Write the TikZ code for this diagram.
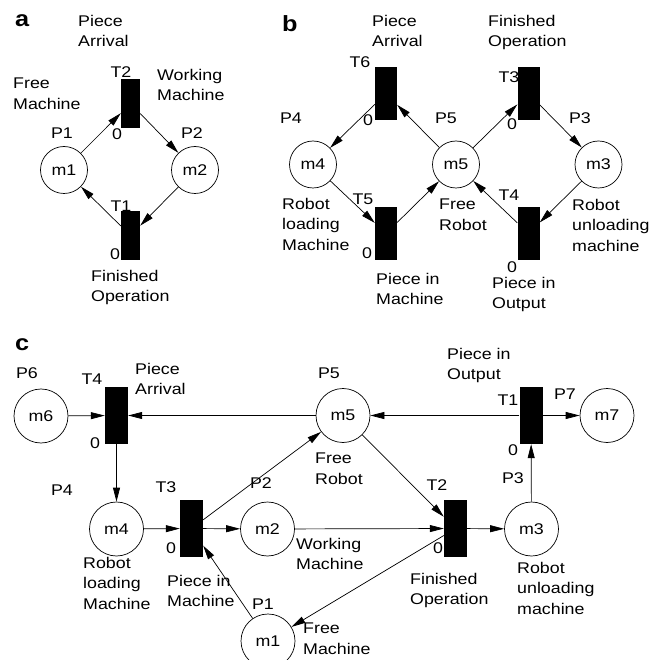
\documentclass[tikz,border=0pt]{standalone}
\usepackage{fontspec}
\setmainfont{Liberation Sans}[FakeStretch=1.15]
\usetikzlibrary{arrows.meta}
\tikzstyle{place}=[draw, circle, line width=0.7pt, minimum size=47pt, inner sep=0pt]
\tikzstyle{transition}=[fill=black, minimum width=22pt, minimum height=53pt, inner sep=0pt]
\tikzstyle{plabel}=[inner sep=0pt]
\tikzstyle{note}=[inner sep=0pt, anchor=north west, align=left]
\tikzstyle{panel}=[inner sep=0pt, anchor=base west, font=\fontsize{22}{24}\selectfont\bfseries]
\tikzstyle{flow}=[line width=0.7pt, -{Triangle[length=14pt, width=7pt]}]

\begin{document}
\begin{tikzpicture}[x=1pt, y=-1pt, font=\fontsize{15.5}{20.5}\selectfont]
      \useasboundingbox (0,0) rectangle (664,660);

      \node[panel] (a) at (15, 27) {a};
      \node[place] (am1) at (64, 170) {m1};
      \node[place] (am2) at (195, 170) {m2};
      \node[transition, minimum width=19pt, minimum height=49pt] (aT2) at (130.5, 103.5) {};
      \node[transition, minimum width=19pt, minimum height=49pt] (aT1) at (130.5, 235.5) {};
      \node[plabel] (aP1) at (62, 133) {P1};
      \node[plabel] (aP2) at (192, 133) {P2};
      \node[plabel] (aT2name) at (121, 72) {T2};
      \node[plabel] (aT2zero) at (117, 134) {0};
      \node[plabel] (aT1name) at (121, 206) {T1};
      \node[plabel] (aT1zero) at (115, 254) {0};
      \node[note] (aarrival) at (78, 15) {Piece\\Arrival};
      \node[note] (aworking) at (157, 69) {Working\\Machine};
      \node[note] (afree) at (13, 78) {Free\\Machine};
      \node[note] (afinished) at (91, 270) {Finished\\Operation};
      \draw[flow] (am1) to (aT2);
      \draw[flow] (aT2) to (am2);
      \draw[flow] (am2) to (aT1);
      \draw[flow] (aT1) to (am1);

      \node[panel] (b) at (282, 32) {b};
      \node[place] (bm4) at (313, 164.5) {m4};
      \node[place] (bm5) at (456, 164.5) {m5};
      \node[place] (bm3) at (598.5, 164.5) {m3};
      \node[transition] (bT6) at (386, 93.5) {};
      \node[transition] (bT3) at (528.5, 93.5) {};
      \node[transition] (bT5) at (386, 233.5) {};
      \node[transition] (bT4) at (528.5, 233.5) {};
      \node[plabel] (bT6name) at (360, 62) {T6};
      \node[plabel] (bT6zero) at (368, 120) {0};
      \node[plabel] (bT3name) at (509, 77) {T3};
      \node[plabel] (bT3zero) at (512, 124) {0};
      \node[plabel] (bP4) at (291, 118) {P4};
      \node[plabel] (bP5) at (446, 118) {P5};
      \node[plabel] (bP3) at (580, 118) {P3};
      \node[plabel] (bT5name) at (363, 199) {T5};
      \node[plabel] (bT5zero) at (367, 253) {0};
      \node[plabel] (bT4name) at (509, 195) {T4};
      \node[plabel] (bT4zero) at (512, 267) {0};
      \node[note] (barrival) at (372, 15) {Piece\\Arrival};
      \node[note] (bfinished) at (488, 15) {Finished\\Operation};
      \node[note] (bloading) at (282, 198) {Robot\\loading\\Machine};
      \node[note] (bfree) at (439, 199) {Free\\Robot};
      \node[note] (bunloading) at (572, 199) {Robot\\unloading\\machine};
      \node[note] (bpiecemachine) at (376, 273) {Piece in\\Machine};
      \node[note] (bpieceoutput) at (492, 277) {Piece in\\Output};
      \draw[flow] (bT6) to (bm4);
      \draw[flow] (bm5) to (bT6);
      \draw[flow] (bm5) to (bT3);
      \draw[flow] (bT3) to (bm3);
      \draw[flow] (bm4) to (bT5);
      \draw[flow] (bT5) to (bm5);
      \draw[flow] (bT4) to (bm5);
      \draw[flow] (bm3) to (bT4);

      \node[panel] (c) at (15, 350) {c};
      \begin{scope}[every node/.append style={minimum size=0pt}]
      \node[place, minimum size=54pt] (cm6) at (41, 416) {m6};
      \node[place, minimum size=54pt] (cm5) at (343, 415.5) {m5};
      \node[place, minimum size=54pt] (cm7) at (607, 415.5) {m7};
      \node[place, minimum size=54pt] (cm4) at (116.5, 529) {m4};
      \node[place, minimum size=54pt] (cm2) at (267.5, 529) {m2};
      \node[place, minimum size=54pt] (cm3) at (531.5, 529) {m3};
      \node[place, minimum size=54pt] (cm1) at (268, 641) {m1};
      \end{scope}
      \node[transition, minimum width=23pt, minimum height=57pt] (cT4) at (116.5, 415.5) {};
      \node[transition, minimum width=23pt, minimum height=57pt] (cT1) at (531, 415.5) {};
      \node[transition, minimum width=23pt, minimum height=57pt] (cT3) at (191.5, 528.5) {};
      \node[transition, minimum width=23pt, minimum height=57pt] (cT2) at (455.5, 528.5) {};
      \node[plabel] (cP6) at (27, 373) {P6};
      \node[plabel] (cT4name) at (92, 379) {T4};
      \node[plabel] (cT4zero) at (95, 443) {0};
      \node[plabel] (cP4) at (62, 490) {P4};
      \node[plabel] (cT3name) at (166, 487) {T3};
      \node[plabel] (cT3zero) at (171, 548) {0};
      \node[plabel] (cP2) at (261, 483) {P2};
      \node[plabel] (cP5) at (329, 373) {P5};
      \node[plabel] (cP1) at (263, 604) {P1};
      \node[plabel] (cT2name) at (437, 485) {T2};
      \node[plabel] (cT2zero) at (438, 548) {0};
      \node[plabel] (cT1name) at (508, 400) {T1};
      \node[plabel] (cT1zero) at (513, 450) {0};
      \node[plabel] (cP7) at (565, 394) {P7};
      \node[plabel] (cP3) at (513, 478) {P3};
      \node[note] (carrival) at (135, 363) {Piece\\Arrival};
      \node[note] (cfreerobot) at (315, 453) {Free\\Robot};
      \node[note] (coutput) at (447, 348) {Piece in\\Output};
      \node[note] (cloading) at (83, 557) {Robot\\loading\\Machine};
      \node[note] (cpiecemachine) at (167, 575) {Piece in\\Machine};
      \node[note] (cworking) at (296, 538) {Working\\Machine};
      \node[note] (cfreemachine) at (303, 623) {Free\\Machine};
      \node[note] (cfinished) at (410, 573) {Finished\\Operation};
      \node[note] (cunloading) at (517, 562) {Robot\\unloading\\machine};
      \draw[flow] (cm6) to (cT4);
      \draw[flow] (cm5) to (cT4);
      \draw[flow] (cT4) to (cm4);
      \draw[flow] (cm4) to (cT3);
      \draw[flow] (cT3) to (cm2);
      \draw[flow] (cT3) to (cm5);
      \draw[flow] (cm1) to (cT3);
      \draw[flow] (cm2) to (cT2);
      \draw[flow] (cm5) to (cT2);
      \draw[flow] (cT2) to (cm1);
      \draw[flow] (cT2) to (cm3);
      \draw[flow] (cm3) to (cT1);
      \draw[flow] (cT1) to (cm5);
      \draw[flow] (cT1) to (cm7);
    \end{tikzpicture}
\end{document}
